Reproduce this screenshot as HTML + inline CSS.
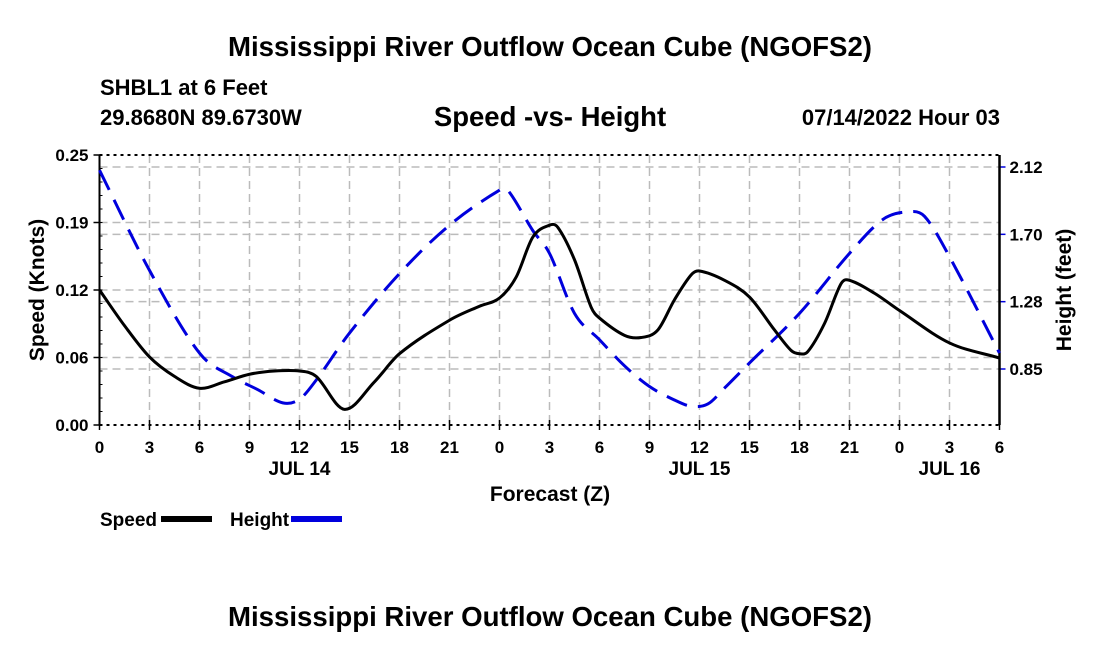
<!DOCTYPE html>
<html><head><meta charset="utf-8">
<style>
body{margin:0;background:#fff;}
svg text{font-family:"Liberation Sans",Arial,sans-serif;font-weight:bold;fill:#000;}
</style></head>
<body>
<svg id="chart" width="1100" height="650" viewBox="0 0 1100 650" xmlns="http://www.w3.org/2000/svg">
<rect width="1100" height="650" fill="#fff"/>
<text x="550" y="56" font-size="27.6" text-anchor="middle">Mississippi River Outflow Ocean Cube (NGOFS2)</text>
<text x="100" y="95" font-size="22">SHBL1 at 6 Feet</text>
<text x="100" y="125" font-size="22">29.8680N  89.6730W</text>
<text x="550" y="126" font-size="27.5" text-anchor="middle">Speed -vs- Height</text>
<text x="1000" y="125" font-size="22" text-anchor="end">07/14/2022 Hour 03</text>
<g id="grid"></g>
<g id="axes"></g>
<g id="series"></g>
<text x="550" y="501" font-size="21" text-anchor="middle">Forecast (Z)</text>
<text transform="translate(44,290) rotate(-90)" font-size="21" text-anchor="middle">Speed (Knots)</text>
<text transform="translate(1071,290) rotate(-90)" font-size="21" text-anchor="middle">Height (feet)</text>
<g>
<text x="100" y="526" font-size="19">Speed</text>
<rect x="161" y="516" width="51" height="6" fill="#000"/>
<text x="230" y="526" font-size="19">Height</text>
<rect x="291" y="516" width="51" height="6" fill="#0000dd"/>
</g>
<text x="550" y="626" font-size="27.6" text-anchor="middle">Mississippi River Outflow Ocean Cube (NGOFS2)</text>
</svg>
<script>
const hourTicks=[0,3,6,9,12,15,18,21,24,27,30,33,36,39,42,45,48,51,54];
const hourLabels=["0","3","6","9","12","15","18","21","0","3","6","9","12","15","18","21","0","3","6"];
const dayLabels=["JUL 14","JUL 15","JUL 16"];
const dayPos=[12,36,51];
const speedTicks=[0,0.0625,0.125,0.1875,0.25];
const speedTickLabels=["0.00","0.06","0.12","0.19","0.25"];
const heightTicks=[0.85,1.2733,1.6967,2.12];
const heightTickLabels=["0.85","1.28","1.70","2.12"];
const speedHours=[0,1.5,3,4.5,6,7.5,9,10.5,12,13,14.7,16.5,18,21,22.8,24,25,26,27,27.5,28.5,29.5,30,31.5,32.5,33.5,34.5,35.5,36,37.5,39,40.5,41.5,42,42.5,43.5,44.5,45,46.5,48,51,54];
const speedVals=[0.125,0.092,0.063,0.045,0.034,0.040,0.047,0.050,0.050,0.045,0.0145,0.040,0.066,0.097,0.110,0.1176,0.137,0.174,0.185,0.183,0.153,0.109,0.099,0.083,0.081,0.088,0.116,0.139,0.1426,0.134,0.1185,0.088,0.069,0.066,0.068,0.094,0.131,0.134,0.122,0.106,0.076,0.062];
const heightHours=[0,3,6,8,9.5,11,12,13,15,18,21,24,24.5,26,27,28.5,30,31.5,33,34.5,35.5,36.5,37.5,39,42,45,47,48.5,49.5,51,54];
const heightVals=[2.10,1.47,0.95,0.80,0.72,0.637,0.66,0.78,1.076,1.45,1.754,1.974,1.974,1.72,1.577,1.20,1.034,0.87,0.74,0.655,0.616,0.63,0.73,0.888,1.20,1.577,1.79,1.838,1.81,1.556,0.95];

const NS='http://www.w3.org/2000/svg';
const X0=99.5,X1=999.5,YT=155,YB=425;
const xs=h=>X0+(h/54)*(X1-X0);
const ys=v=>YB-(v/0.25)*(YB-YT);
const yh=v=>369-(v-0.85)/1.27*202;
function mk(tag,attrs,parent){const e=document.createElementNS(NS,tag);for(const k in attrs)e.setAttribute(k,attrs[k]);parent.appendChild(e);return e;}
const grid=document.getElementById('grid'),axes=document.getElementById('axes'),series=document.getElementById('series');
hourTicks.forEach((h,i)=>{
  if(h>0&&h<54){const l=mk('line',{x1:xs(h),x2:xs(h),y1:YT,y2:YB,stroke:'#bbb','stroke-width':1.5,'stroke-dasharray':'8,5'},grid);
  
  }
  const t=mk('line',{x1:xs(h),x2:xs(h),y1:YB-5,y2:YB+5,stroke:'#000','stroke-width':1.5},axes);
  
  
  const tx=mk('text',{x:xs(h),y:YB+28,'font-size':17,'text-anchor':'middle'},axes);tx.textContent=hourLabels[i];
  
  
});
dayLabels.forEach((d,i)=>{const t=mk('text',{x:xs(dayPos[i]),y:475,'font-size':19,'text-anchor':'middle'},axes);t.textContent=d;
  
  });
speedTicks.forEach((v,i)=>{
  if(v>0&&v<0.25){const l=mk('line',{x1:X0,x2:X1,y1:ys(v),y2:ys(v),stroke:'#bbb','stroke-width':1.5,'stroke-dasharray':'8,5'},grid);
  
  }
  mk('line',{x1:X0-6,x2:X0,y1:ys(v),y2:ys(v),stroke:'#000','stroke-width':1.5},axes);
  const t=mk('text',{x:X0-11,y:ys(v)+6,'font-size':17,'text-anchor':'end'},axes);t.textContent=speedTickLabels[i];
  
  
});
for(let k=1;k<20;k++){const v=k*0.0125;mk('line',{x1:X0,x2:X0+3,y1:ys(v),y2:ys(v),stroke:'#000','stroke-width':1},axes);}
heightTicks.forEach((v,i)=>{
  const l=mk('line',{x1:X0,x2:X1,y1:yh(v),y2:yh(v),stroke:'#bbb','stroke-width':1.5,'stroke-dasharray':'8,5'},grid);
  
  
  mk('line',{x1:X1,x2:X1+6,y1:yh(v),y2:yh(v),stroke:'#0000dd','stroke-width':1.5},axes);
  const t=mk('text',{x:X1+10,y:yh(v)+6,'font-size':17},axes);t.textContent=heightTickLabels[i];
  
  
});
mk('line',{x1:X0,x2:X1,y1:YT,y2:YT,stroke:'#000','stroke-width':2,'stroke-dasharray':'3,4'},axes);
mk('line',{x1:X0,x2:X1,y1:YB,y2:YB,stroke:'#000','stroke-width':2,'stroke-dasharray':'3,4'},axes);
mk('line',{x1:X0,x2:X0,y1:YT,y2:YB,stroke:'#000','stroke-width':2},axes);
mk('line',{x1:X1,x2:X1,y1:YT,y2:YB,stroke:'#000','stroke-width':2.5},axes);
function smooth(p){
  const n=p.length,m=[];
  for(let i=0;i<n;i++){
    if(i===0)m.push((p[1][1]-p[0][1])/(p[1][0]-p[0][0]));
    else if(i===n-1)m.push((p[n-1][1]-p[n-2][1])/(p[n-1][0]-p[n-2][0]));
    else m.push((p[i+1][1]-p[i-1][1])/(p[i+1][0]-p[i-1][0]));
  }
  let d='M'+p[0][0]+','+p[0][1];
  for(let i=0;i<n-1;i++){const dx=(p[i+1][0]-p[i][0])/3;
    d+=' C'+(p[i][0]+dx)+','+(p[i][1]+m[i]*dx)+' '+(p[i+1][0]-dx)+','+(p[i+1][1]-m[i+1]*dx)+' '+p[i+1][0]+','+p[i+1][1];}
  return d;}
const hp=mk('path',{d:smooth(heightHours.map((h,i)=>[xs(h),yh(heightVals[i])])),fill:'none',stroke:'#0000dd','stroke-width':3,'stroke-dasharray':'22,11'},series);


const sp=mk('path',{d:smooth(speedHours.map((h,i)=>[xs(h),ys(speedVals[i])])),fill:'none',stroke:'#000','stroke-width':3},series);


</script>
</body></html>
